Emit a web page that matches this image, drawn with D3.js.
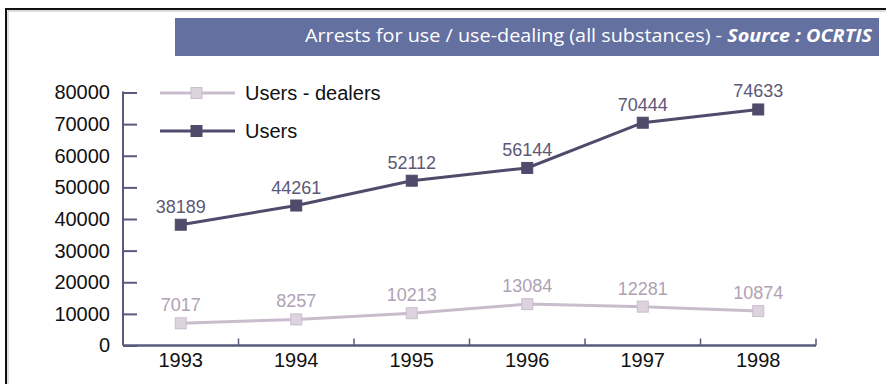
<!DOCTYPE html>
<html>
<head>
<meta charset="utf-8">
<script src="https://cdn.jsdelivr.net/npm/d3@7"></script>
<style>
  html, body { margin: 0; padding: 0; background: #fff; overflow: hidden; }
  svg { display: block; }
</style>
</head>
<body>
<svg id="chart" width="886" height="384"></svg>
<script>
// Arrests per year, France 1993-1998
const years = ["1993", "1994", "1995", "1996", "1997", "1998"];
const users = [38189, 44261, 52112, 56144, 70444, 74633];
const usersDealers = [7017, 8257, 10213, 13084, 12281, 10874];
const yTicks = [0, 10000, 20000, 30000, 40000, 50000, 60000, 70000, 80000];
const seriesNames = ["Users - dealers", "Users"];
const titleText = "Arrests for use / use-dealing (all substances) - ";
const sourceText = "Source : OCRTIS";

const svg = d3.select("#chart");

// frame edges (top and left only)
svg.append("path")
  .attr("d", "M6,384 V9 H886")
  .attr("fill", "none").attr("stroke", "#111").attr("stroke-width", 2);
svg.append("path")
  .attr("d", "M8,384 V11 H886")
  .attr("fill", "none").attr("stroke", "#bbb").attr("stroke-width", 1);

// title banner
svg.append("rect")
  .attr("x", 175).attr("y", 18).attr("width", 704).attr("height", 38)
  .attr("fill", "#6470a0");
const title = svg.append("text")
  .attr("x", 872).attr("y", 42)
  .attr("text-anchor", "end")
  .attr("font-family", "'Open Sans', sans-serif")
  .attr("font-size", 18)
  .attr("textLength", 567)
  .attr("lengthAdjust", "spacingAndGlyphs")
  .attr("fill", "#fff");
title.append("tspan").text(titleText);
title.append("tspan")
  .attr("font-weight", "bold").attr("font-style", "italic")
  .text(sourceText);

// scales
const x = d3.scaleBand().domain(years).range([123, 816]);
const y = d3.scaleLinear().domain([0, 80000]).range([345.5, 92.5]);

const axisColor = "#5a5a7c";
const usersColor = "#4f4b6b";
const dealersColor = "#c9bdcd";
const font = "'Liberation Sans', Arial, sans-serif";

// y axis: ticks point inward
const yAxis = svg.append("g")
  .attr("transform", `translate(${x.range()[0]},0)`)
  .call(d3.axisRight(y).tickValues(yTicks).tickSize(14).tickFormat(d3.format("d")).tickPadding(0));
yAxis.select(".domain").remove();
yAxis.selectAll(".tick line").attr("stroke", axisColor).attr("stroke-width", 2);
yAxis.selectAll(".tick text")
  .attr("x", -13).attr("text-anchor", "end")
  .attr("font-family", font).attr("font-size", 20).attr("fill", "#111");
svg.append("line")
  .attr("x1", x.range()[0]).attr("x2", x.range()[0])
  .attr("y1", y(80000) - 1).attr("y2", y(0))
  .attr("stroke", axisColor).attr("stroke-width", 2);

// x axis: ticks on band boundaries
const boundaries = years.map(d => x(d)).concat([x.range()[1]]).slice(1);
svg.append("line")
  .attr("x1", x.range()[0]).attr("x2", x.range()[1])
  .attr("y1", y(0)).attr("y2", y(0))
  .attr("stroke", axisColor).attr("stroke-width", 2.5);
svg.append("g").selectAll("line").data(boundaries).join("line")
  .attr("x1", d => d).attr("x2", d => d)
  .attr("y1", y(0)).attr("y2", y(0) - 7)
  .attr("stroke", axisColor).attr("stroke-width", 1.5);
svg.append("g").selectAll("text").data(years).join("text")
  .attr("x", d => x(d) + x.bandwidth() / 2)
  .attr("y", 367)
  .attr("text-anchor", "middle")
  .attr("font-family", font).attr("font-size", 20).attr("fill", "#111")
  .text(d => d);

const cx = (d, i) => x(years[i]) + x.bandwidth() / 2;
const line = d3.line().x(cx).y(d => y(d));

function drawSeries(values, color, markerFill, labelColor) {
  const g = svg.append("g");
  g.append("path").datum(values)
    .attr("d", line).attr("fill", "none")
    .attr("stroke", color).attr("stroke-width", 3);
  g.selectAll("rect").data(values).join("rect")
    .attr("x", (d, i) => cx(d, i) - 5.5).attr("y", d => y(d) - 5.5)
    .attr("width", 11).attr("height", 11)
    .attr("fill", markerFill).attr("stroke", color).attr("stroke-width", 1);
  g.selectAll("text").data(values).join("text")
    .attr("x", (d, i) => cx(d, i))
    .attr("y", d => y(d) - 12)
    .attr("text-anchor", "middle")
    .attr("font-family", font).attr("font-size", 18).attr("fill", labelColor)
    .text(d => d);
}
drawSeries(usersDealers, dealersColor, "#dcd3de", "#aea2b4");
drawSeries(users, usersColor, usersColor, "#5c5878");

// legend
const legendRows = [
  { name: seriesNames[0], color: dealersColor, fill: "#dcd3de", y: 93 },
  { name: seriesNames[1], color: usersColor, fill: usersColor, y: 131 }
];
const lg = svg.append("g");
legendRows.forEach(r => {
  lg.append("line").attr("x1", 160).attr("x2", 235).attr("y1", r.y).attr("y2", r.y)
    .attr("stroke", r.color).attr("stroke-width", 3);
  lg.append("rect").attr("x", 191).attr("y", r.y - 5.5).attr("width", 11).attr("height", 11)
    .attr("fill", r.fill).attr("stroke", r.color);
  lg.append("text").attr("x", 245).attr("y", r.y + 7)
    .attr("font-family", font).attr("font-size", 20).attr("fill", "#111")
    .text(r.name);
});
</script>
</body>
</html>
